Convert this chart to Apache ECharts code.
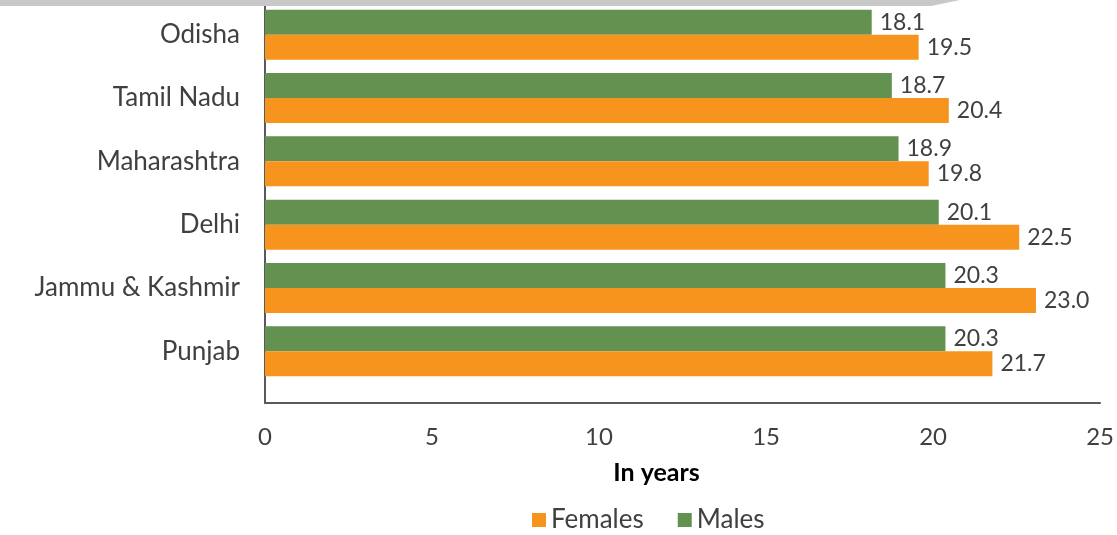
<!DOCTYPE html>
<html><head><meta charset="utf-8">
<script src="https://cdn.jsdelivr.net/npm/echarts@6/dist/echarts.min.js"></script>
<style>html,body{margin:0;padding:0;background:#fff}#c{width:1117px;height:535px}#top{position:absolute;left:0;top:0;width:960px;height:6px;background:#c8c8c8;clip-path:polygon(0 0,100% 0,97% 100%,0 100%)}</style>
</head><body><div id="c"></div><div id="top"></div>
<script>
const categories = ['Odisha', 'Tamil Nadu', 'Maharashtra', 'Delhi', 'Jammu & Kashmir', 'Punjab'];
const males = [18.1, 18.7, 18.9, 20.1, 20.3, 20.3];
const females = [19.5, 20.4, 19.8, 22.5, 23.0, 21.7];
const xTicks = [0, 5, 10, 15, 20, 25];

const font = 'Lato';
const txt = '#404040';
const chart = echarts.init(document.getElementById('c'));
const lbl = {show: true, position: 'right', distance: 8, color: txt, fontSize: 23, fontFamily: font, formatter: p => p.value.toFixed(1)};
chart.setOption({
  animation: false,
  textStyle: {fontFamily: font},
  grid: [
    {left: 265, right: 14, top: 3, height: 380},
    {left: 265, right: 14, top: 3, height: 400}
  ],
  legend: {
    data: ['Females', 'Males'], bottom: -3, left: 527, itemWidth: 14, itemHeight: 14, itemGap: 34,
    icon: 'rect', textStyle: {color: txt, fontSize: 26, fontFamily: font}
  },
  xAxis: [
    {gridIndex: 0, type: 'value', min: 0, max: 25, interval: 5, show: false},
    {gridIndex: 1, type: 'value', min: 0, max: 25, interval: 5,
     axisLine: {show: true, lineStyle: {color: '#595959', width: 2}}, axisTick: {show: false}, splitLine: {show: false},
     axisLabel: {color: txt, fontSize: 24, fontFamily: font, margin: 22, formatter: v => xTicks.includes(v) ? String(v) : ''},
     name: 'In years', nameLocation: 'middle', nameGap: 57,
     nameTextStyle: {color: '#000', fontSize: 25, fontWeight: 'bold', fontFamily: font, padding: [0, 52, 0, 0]}}
  ],
  yAxis: [
    {gridIndex: 0, type: 'category', data: categories, inverse: true,
     axisLine: {show: false}, axisTick: {show: false},
     axisLabel: {color: txt, fontSize: 26, fontFamily: font, margin: 25}},
    {gridIndex: 1, type: 'value', min: 0, max: 1, axisLabel: {show: false}, splitLine: {show: false}, axisTick: {show: false},
     axisLine: {show: true, lineStyle: {color: '#595959', width: 2}}}
  ],
  series: [
    {name: 'Males', type: 'bar', xAxisIndex: 0, yAxisIndex: 0, data: males, barWidth: 25, barGap: '0%',
     itemStyle: {color: '#639150'}, label: lbl},
    {name: 'Females', type: 'bar', xAxisIndex: 0, yAxisIndex: 0, data: females, barWidth: 25, barGap: '0%',
     itemStyle: {color: '#F7941E'}, label: lbl}
  ]
});
</script></body></html>
